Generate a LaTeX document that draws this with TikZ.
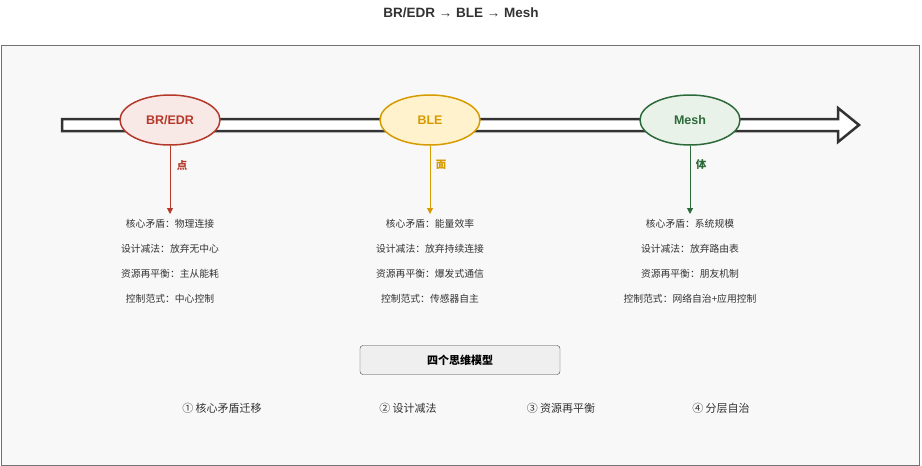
\documentclass[tikz,border=0pt]{standalone}
\usepackage{fontspec}
\setmainfont{Liberation Sans}
\newfontfamily\cjk{Noto Sans CJK SC}
\usetikzlibrary{shapes.geometric,arrows.meta}
\definecolor{rc}{HTML}{B5392A}\definecolor{rf}{HTML}{F8E9E7}
\definecolor{yc}{HTML}{D79B00}\definecolor{yf}{HTML}{FFF2CC}
\definecolor{gc}{HTML}{2D6A3A}\definecolor{gf}{HTML}{E9F2E9}
\begin{document}
\begin{tikzpicture}[x=1pt,y=-1pt,
 era/.style={ellipse,draw,line width=1.5pt,minimum width=100pt,minimum height=50pt,font=\bfseries\fontsize{12.5}{14}\selectfont},
 lbl/.style={font=\cjk\bfseries\fontsize{10.5}{12}\selectfont},
 item/.style={font=\cjk\fontsize{9.8}{11}\selectfont,text=black!80},
 model/.style={font=\cjk\fontsize{11}{13}\selectfont,text=black!80},
 down/.style={-{Triangle[length=6pt,width=6pt]},line width=1pt}]
\useasboundingbox (0,0) rectangle (922,466);
\fill[white] (0,0) rectangle (922,466);
\draw[fill={rgb,255:red,248;green,248;blue,248},draw=black!55,line width=0.8pt] (1,45) rectangle (919,465);
\node[font=\bfseries\fontsize{13.5}{15}\selectfont,text=black!80] (title) at (461,13) {BR/EDR → BLE → Mesh};
\draw[fill=white,draw=black!80,line width=2.5pt,line join=miter]
 (62,119) -- (838,119) -- (838,108) -- (859,125) -- (838,142) -- (838,131) -- (62,131) -- cycle;
\node[era,draw=rc,fill=rf,text=rc] (a) at (170,120) {BR/EDR};
\node[era,draw=yc,fill=yf,text=yc] (b) at (430,120) {BLE};
\node[era,draw=gc,fill=gf,text=gc] (c) at (690,120) {Mesh};
\coordinate (ae) at (170,214);\coordinate (be) at (430,214);\coordinate (ce) at (690,214);
\draw[down,rc] (a.south) -- (ae);
\draw[down,yc] (b.south) -- (be);
\draw[down,gc] (c.south) -- (ce);
\node[lbl,text=rc] (la) at (182,165) {点};
\node[lbl,text=yc] (lb) at (441,165) {面};
\node[lbl,text=gc] (lc) at (701,165) {体};
\foreach \x/\n/\s in {170/a/{核心矛盾：物理连接,设计减法：放弃无中心,资源再平衡：主从能耗,控制范式：中心控制},
 430/b/{核心矛盾：能量效率,设计减法：放弃持续连接,资源再平衡：爆发式通信,控制范式：传感器自主},
 690/c/{核心矛盾：系统规模,设计减法：放弃路由表,资源再平衡：朋友机制,控制范式：网络自治+应用控制}}{
 \foreach \t [count=\i] in \s { \node[item] (t\n\i) at (\x,{199+25*\i}) {\t}; } }
\node[draw=black!75,fill={rgb,255:red,239;green,239;blue,239},rounded corners=3pt,minimum width=200pt,minimum height=29pt,font=\cjk\bfseries\fontsize{11}{13}\selectfont] (box) at (460,360) {四个思维模型};
\node[model] (m1) at (222,408) {① 核心矛盾迁移};
\node[model] (m2) at (408,408) {② 设计减法};
\node[model] (m3) at (561,408) {③ 资源再平衡};
\node[model] (m4) at (721,408) {④ 分层自治};
\end{tikzpicture}
\end{document}
